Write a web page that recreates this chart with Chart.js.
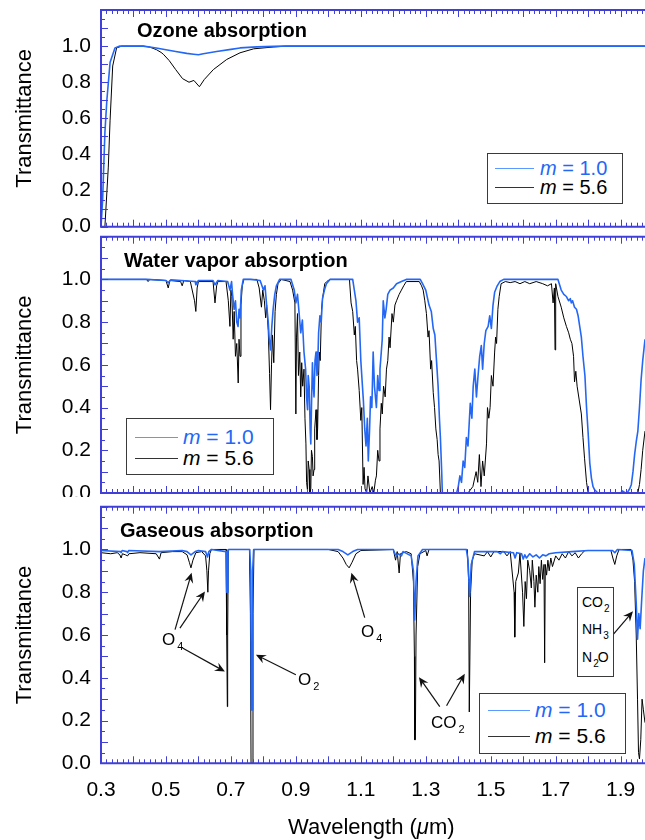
<!DOCTYPE html>
<html>
<head>
<meta charset="utf-8">
<script src="https://cdn.jsdelivr.net/npm/chart.js@4.4.1/dist/chart.umd.min.js"></script>
<style>
  html, body { margin: 0; padding: 0; background: #fff; }
  #wrap { position: relative; width: 645px; height: 840px; overflow: hidden;
          font-family: "Liberation Sans", Arial, Helvetica, sans-serif; color: #000; }
  canvas { position: absolute; left: 0; }
  #c1 { top: 0; }
  #c2 { top: 234px; }
  #c3 { top: 497px; background: #fff; }
  .t { position: absolute; white-space: nowrap; }
  .t sub { vertical-align: baseline; position: relative; }
  .box { position: absolute; border: 1px solid #3a3a3a; background: #fff; box-sizing: border-box; }
  .ln { position: absolute; height: 0; }
</style>
</head>
<body>
<div id="wrap">
  <canvas id="c1" width="645" height="240"></canvas>
  <canvas id="c2" width="645" height="266"></canvas>
  <canvas id="c3" width="645" height="343"></canvas>
</div>
<script>
// tick labels and titles
const xTickLabels = ['0.3', '0.5', '0.7', '0.9', '1.1', '1.3', '1.5', '1.7', '1.9'];
const yTickLabels = ['0.0', '0.2', '0.4', '0.6', '0.8', '1.0'];
const panelTitles = ['Ozone absorption', 'Water vapor absorption', 'Gaseous absorption'];
const airMass = ['1.0', '5.6'];

// [wavelength (um), transmittance]
const ozoneBlue = [[0.300,0.00],[0.305,0.15],[0.312,0.52],[0.318,0.70],[0.328,0.91],[0.343,0.99],[0.358,1.00],
  [0.43,1.00],[0.47,0.99],[0.50,0.98],[0.53,0.97],[0.564,0.96],[0.585,0.955],[0.600,0.952],[0.615,0.958],
  [0.656,0.97],[0.70,0.982],[0.728,0.99],[0.78,0.996],[0.86,1.00],[1.975,1.00]];
const ozoneBlack = [[0.300,0.00],[0.312,0.00],[0.3225,0.33],[0.328,0.59],[0.336,0.89],[0.348,0.99],[0.364,1.00],
  [0.43,1.00],[0.45,0.995],[0.471,0.98],[0.485,0.965],[0.492,0.955],[0.51,0.92],[0.53,0.87],[0.551,0.82],
  [0.571,0.80],[0.586,0.81],[0.603,0.775],[0.618,0.815],[0.646,0.87],[0.687,0.926],[0.728,0.963],
  [0.77,0.985],[0.83,0.995],[0.87,1.00],[1.975,1.00]];

const waterBlue = [[0.300,1.0],[0.44,1.0],[0.50,0.995],[0.507,0.985],[0.515,0.998],[0.59,0.99],[0.592,0.975],
  [0.60,0.995],[0.645,0.995],[0.651,0.975],[0.66,0.995],[0.69,0.99],[0.697,0.95],[0.702,0.99],[0.705,0.93],
  [0.71,0.86],[0.714,0.90],[0.718,0.80],[0.722,0.78],[0.725,0.86],[0.728,0.82],[0.732,0.95],[0.738,1.0],
  [0.76,1.0],[0.79,0.995],[0.80,0.95],[0.805,0.97],[0.81,0.88],[0.815,0.80],[0.818,0.72],[0.822,0.67],
  [0.826,0.78],[0.83,0.86],[0.835,0.93],[0.84,0.97],[0.85,1.0],[0.885,1.0],[0.895,0.95],[0.90,0.89],
  [0.905,0.93],[0.909,0.86],[0.915,0.75],[0.92,0.81],[0.925,0.66],[0.93,0.58],[0.933,0.45],[0.936,0.39],
  [0.938,0.55],[0.941,0.50],[0.944,0.30],[0.946,0.23],[0.948,0.40],[0.951,0.61],[0.953,0.52],[0.956,0.45],
  [0.959,0.62],[0.962,0.66],[0.965,0.55],[0.967,0.58],[0.970,0.75],[0.974,0.83],[0.978,0.80],[0.982,0.91],
  [0.988,0.95],[0.994,0.98],[1.005,1.0],[1.075,1.0],[1.08,0.95],[1.085,0.90],[1.09,0.80],[1.095,0.82],
  [1.10,0.62],[1.105,0.50],[1.108,0.43],[1.112,0.30],[1.116,0.22],[1.12,0.35],[1.123,0.15],[1.127,0.30],
  [1.13,0.45],[1.134,0.40],[1.138,0.66],[1.142,0.50],[1.148,0.40],[1.152,0.55],[1.156,0.48],[1.159,0.58],
  [1.163,0.66],[1.166,0.72],[1.169,0.90],[1.174,0.82],[1.178,0.86],[1.183,0.93],[1.19,0.95],[1.20,0.96],
  [1.21,0.98],[1.225,0.99],[1.24,1.0],[1.283,1.0],[1.29,0.98],[1.30,0.95],[1.31,0.88],[1.317,0.85],
  [1.323,0.77],[1.328,0.74],[1.333,0.62],[1.338,0.50],[1.342,0.35],[1.345,0.26],[1.349,0.10],[1.351,0.0],
  [1.395,0.0],[1.40,0.03],[1.405,0.08],[1.41,0.05],[1.415,0.15],[1.42,0.12],[1.425,0.26],[1.43,0.22],
  [1.437,0.42],[1.442,0.35],[1.446,0.50],[1.451,0.58],[1.456,0.45],[1.461,0.55],[1.466,0.64],[1.471,0.69],
  [1.475,0.58],[1.48,0.70],[1.485,0.76],[1.492,0.78],[1.497,0.83],[1.502,0.77],[1.507,0.88],[1.512,0.94],
  [1.52,0.97],[1.528,0.99],[1.54,1.0],[1.707,1.0],[1.717,0.95],[1.725,0.93],[1.733,0.92],[1.74,0.90],
  [1.745,0.91],[1.748,0.89],[1.752,0.90],[1.758,0.87],[1.764,0.86],[1.769,0.83],[1.774,0.78],[1.779,0.73],
  [1.784,0.64],[1.79,0.55],[1.795,0.40],[1.80,0.28],[1.805,0.14],[1.81,0.07],[1.815,0.03],[1.82,0.015],
  [1.83,0.0],[1.90,0.0],[1.905,0.01],[1.915,0.0],[1.922,0.005],[1.928,0.02],[1.933,0.04],[1.938,0.10],
  [1.943,0.18],[1.948,0.24],[1.953,0.29],[1.958,0.40],[1.963,0.53],[1.968,0.62],[1.975,0.72]];
const waterBlack = [[0.300,1.0],[0.44,1.0],[0.445,0.99],[0.45,1.0],[0.50,0.995],[0.507,0.96],[0.512,0.995],
  [0.545,0.99],[0.55,0.97],[0.555,0.995],[0.575,0.99],[0.588,0.90],[0.592,0.85],[0.596,0.96],[0.60,0.99],
  [0.645,0.99],[0.651,0.89],[0.656,0.97],[0.66,0.99],[0.685,0.99],[0.692,0.90],[0.697,0.78],[0.700,0.95],
  [0.703,0.92],[0.707,0.72],[0.71,0.85],[0.714,0.64],[0.718,0.70],[0.7225,0.515],[0.725,0.72],[0.728,0.64],
  [0.731,0.88],[0.735,0.97],[0.74,1.0],[0.78,1.0],[0.787,0.96],[0.794,0.87],[0.798,0.95],[0.803,0.90],
  [0.807,0.82],[0.81,0.88],[0.815,0.76],[0.819,0.56],[0.822,0.39],[0.825,0.60],[0.828,0.74],[0.832,0.61],
  [0.836,0.85],[0.84,0.93],[0.845,0.98],[0.855,1.0],[0.882,0.99],[0.89,0.95],[0.897,0.89],[0.900,0.37],
  [0.902,0.73],[0.905,0.84],[0.908,0.55],[0.912,0.66],[0.915,0.45],[0.918,0.61],[0.921,0.50],[0.925,0.58],
  [0.928,0.35],[0.931,0.23],[0.933,0.05],[0.936,0.01],[0.938,0.15],[0.941,0.11],[0.943,0.0],[0.946,0.02],
  [0.948,0.20],[0.951,0.17],[0.953,0.08],[0.956,0.11],[0.958,0.30],[0.962,0.39],[0.965,0.25],[0.967,0.30],
  [0.970,0.55],[0.972,0.66],[0.975,0.62],[0.979,0.86],[0.983,0.92],[0.989,0.98],[0.995,0.99],[1.005,1.0],
  [1.065,1.0],[1.07,0.89],[1.075,0.85],[1.08,0.74],[1.083,0.78],[1.087,0.62],[1.09,0.58],[1.095,0.48],
  [1.10,0.34],[1.103,0.40],[1.107,0.04],[1.11,0.12],[1.113,0.02],[1.118,0.0],[1.122,0.08],[1.128,0.0],
  [1.135,0.03],[1.14,0.0],[1.145,0.06],[1.148,0.08],[1.152,0.20],[1.156,0.15],[1.159,0.30],[1.163,0.42],
  [1.166,0.37],[1.17,0.50],[1.175,0.45],[1.179,0.58],[1.183,0.62],[1.187,0.73],[1.19,0.68],[1.196,0.84],
  [1.20,0.80],[1.205,0.88],[1.21,0.90],[1.218,0.93],[1.225,0.95],[1.232,0.97],[1.24,0.99],[1.28,0.99],
  [1.287,0.97],[1.292,0.95],[1.297,0.90],[1.302,0.84],[1.307,0.73],[1.31,0.76],[1.315,0.58],[1.318,0.62],
  [1.323,0.47],[1.327,0.40],[1.331,0.30],[1.335,0.25],[1.338,0.18],[1.341,0.15],[1.345,0.0],[1.43,0.0],
  [1.435,0.01],[1.445,0.03],[1.455,0.10],[1.46,0.05],[1.465,0.18],[1.47,0.03],[1.475,0.15],[1.48,0.08],
  [1.487,0.23],[1.49,0.40],[1.494,0.35],[1.498,0.40],[1.502,0.55],[1.507,0.50],[1.512,0.66],[1.515,0.73],
  [1.518,0.70],[1.522,0.86],[1.526,0.92],[1.532,0.98],[1.545,0.99],[1.56,0.985],[1.575,0.99],[1.59,0.98],
  [1.605,0.99],[1.62,0.98],[1.64,0.99],[1.66,0.98],[1.675,0.97],[1.687,0.98],[1.692,0.89],[1.696,0.96],
  [1.698,0.67],[1.700,0.98],[1.707,0.92],[1.717,0.87],[1.725,0.82],[1.733,0.78],[1.74,0.75],[1.745,0.72],
  [1.75,0.70],[1.755,0.64],[1.758,0.52],[1.762,0.57],[1.766,0.50],[1.772,0.44],[1.779,0.37],[1.784,0.26],
  [1.789,0.16],[1.795,0.05],[1.80,0.0],[1.953,0.0],[1.958,0.04],[1.963,0.11],[1.968,0.20],[1.975,0.29]];

const gasBlue = [[0.300,0.995],[0.36,0.99],[0.362,0.985],[0.365,0.995],[0.38,0.99],[0.382,0.985],[0.385,0.995],
  [0.48,0.99],[0.55,0.995],[0.565,0.99],[0.577,0.975],[0.59,0.99],[0.60,0.995],[0.622,0.99],[0.628,0.965],
  [0.632,0.99],[0.64,1.0],[0.685,0.99],[0.687,0.80],[0.689,0.80],[0.691,0.99],[0.693,1.0],[0.758,1.0],
  [0.761,0.90],[0.763,0.25],[0.765,0.25],[0.767,0.90],[0.77,1.0],[1.03,1.0],[1.045,0.99],[1.06,0.975],
  [1.075,0.99],[1.09,1.0],[1.20,1.0],[1.205,0.98],[1.21,0.97],[1.215,0.98],[1.225,0.97],[1.23,0.99],
  [1.255,0.97],[1.262,0.90],[1.266,0.67],[1.27,0.85],[1.276,0.97],[1.29,1.0],[1.425,1.0],[1.43,0.95],
  [1.435,0.78],[1.44,0.93],[1.45,0.99],[1.52,0.99],[1.53,0.98],[1.535,0.99],[1.57,0.985],[1.575,0.96],
  [1.58,0.985],[1.595,0.98],[1.60,0.955],[1.605,0.975],[1.61,0.96],[1.62,0.98],[1.63,0.965],[1.64,0.975],
  [1.65,0.96],[1.66,0.975],[1.67,0.97],[1.68,0.98],[1.70,0.985],[1.75,0.99],[1.80,0.995],[1.875,0.995],
  [1.882,0.985],[1.89,1.0],[1.935,0.995],[1.942,0.93],[1.948,0.75],[1.952,0.58],[1.956,0.70],[1.96,0.63],
  [1.965,0.77],[1.97,0.90],[1.975,0.96]];
const gasBlack = [[0.300,0.985],[0.33,0.98],[0.35,0.985],[0.358,0.975],[0.362,0.96],[0.366,0.98],[0.375,0.975],
  [0.382,0.97],[0.386,0.98],[0.42,0.985],[0.47,0.98],[0.48,0.955],[0.485,0.985],[0.52,0.99],[0.55,0.99],
  [0.565,0.975],[0.572,0.94],[0.577,0.914],[0.583,0.95],[0.592,0.985],[0.61,0.99],[0.622,0.97],[0.626,0.90],
  [0.629,0.80],[0.631,0.90],[0.635,0.98],[0.64,1.0],[0.685,1.0],[0.687,0.60],[0.689,0.265],[0.690,0.60],
  [0.692,1.0],[0.757,1.0],[0.760,0.70],[0.762,0.0],[0.765,0.0],[0.768,0.70],[0.771,1.0],[1.00,1.0],
  [1.03,0.99],[1.045,0.96],[1.055,0.93],[1.064,0.914],[1.073,0.94],[1.085,0.98],[1.10,0.995],[1.20,1.0],
  [1.207,0.95],[1.212,0.99],[1.218,0.89],[1.222,0.98],[1.24,0.99],[1.255,0.98],[1.262,0.85],[1.265,0.50],
  [1.266,0.11],[1.268,0.11],[1.27,0.60],[1.275,0.92],[1.282,0.98],[1.30,0.995],[1.304,0.97],[1.31,1.0],
  [1.428,1.0],[1.432,0.85],[1.434,0.24],[1.436,0.24],[1.438,0.80],[1.443,0.95],[1.45,0.98],[1.48,0.97],
  [1.49,0.99],[1.50,0.965],[1.51,0.99],[1.54,0.99],[1.55,0.97],[1.56,0.99],[1.572,0.80],[1.574,0.59],
  [1.577,0.85],[1.585,0.89],[1.59,0.98],[1.598,0.80],[1.602,0.64],[1.606,0.85],[1.61,0.77],[1.614,0.95],
  [1.62,0.90],[1.625,0.82],[1.628,0.95],[1.633,0.85],[1.636,0.73],[1.64,0.88],[1.645,0.80],[1.648,0.92],
  [1.652,0.84],[1.656,0.95],[1.66,0.86],[1.664,0.93],[1.666,0.47],[1.668,0.93],[1.672,0.88],[1.676,0.95],
  [1.68,0.90],[1.685,0.96],[1.69,0.92],[1.70,0.97],[1.71,0.95],[1.72,0.98],[1.73,0.96],[1.74,0.99],
  [1.75,0.97],[1.76,0.985],[1.77,0.96],[1.78,0.98],[1.79,0.995],[1.87,0.995],[1.876,0.96],[1.882,0.93],
  [1.888,0.97],[1.895,1.0],[1.932,1.0],[1.938,0.95],[1.943,0.85],[1.948,0.60],[1.952,0.30],[1.955,0.05],
  [1.958,0.02],[1.962,0.11],[1.966,0.30],[1.97,0.25],[1.975,0.19]];

// annotation arrows in data units: [fromWl, fromT, toWl, toT]
const gasArrows = [[0.528,0.625,0.579,0.891],[0.543,0.632,0.620,0.804],[0.551,0.539,0.6815,0.429],
  [0.900,0.414,0.777,0.508],[1.112,0.681,1.071,0.891],[1.343,0.265,1.279,0.403],[1.364,0.269,1.420,0.419],
  [1.876,0.601,1.938,0.711]];

const AXIS = '#4040d8';
const BLUE = '#2467f5';
const FONT = '"Liberation Sans", Arial, Helvetica, sans-serif';

const xTickValues = [];
for (let i = 18; i <= 118; i++) xTickValues.push(i / 60);
const yTickValues = [];
for (let k = 0; k <= 24; k++) yTickValues.push(k / 20);
const isTenth = v => Math.abs(v * 10 - Math.round(v * 10)) < 1e-6;

// blue frame with inward minor/major ticks (right side is cut off in the original)
const frameTicks = {
  id: 'frameTicks',
  afterDatasetsDraw(chart) {
    const { ctx, chartArea: a } = chart;
    const xs = chart.scales.x, ys = chart.scales.y;
    ctx.save();
    ctx.strokeStyle = AXIS;
    ctx.lineWidth = 1;
    ctx.beginPath();
    xTickValues.forEach(v => {
      const px = Math.round(xs.getPixelForValue(v)) + 0.5;
      const len = isTenth(v) ? 7 : 4;
      ctx.moveTo(px, a.top); ctx.lineTo(px, a.top + len);
      ctx.moveTo(px, a.bottom); ctx.lineTo(px, a.bottom - len);
    });
    yTickValues.forEach(v => {
      const py = Math.round(ys.getPixelForValue(v)) + 0.5;
      const len = isTenth(v) ? 7 : 4;
      ctx.moveTo(a.left, py); ctx.lineTo(a.left + len, py);
    });
    ctx.stroke();
    ctx.lineWidth = 2;
    ctx.beginPath();
    ctx.moveTo(a.right, a.top); ctx.lineTo(a.left, a.top);
    ctx.lineTo(a.left, a.bottom); ctx.lineTo(a.right, a.bottom);
    ctx.stroke();
    ctx.restore();
  }
};

const arrowsPlugin = {
  id: 'arrows',
  afterDatasetsDraw(chart, args, opts) {
    if (!opts.list) return;
    const { ctx } = chart;
    const xs = chart.scales.x, ys = chart.scales.y;
    ctx.save();
    ctx.strokeStyle = '#111';
    ctx.fillStyle = '#111';
    ctx.lineWidth = 1.2;
    opts.list.forEach(([w0, t0, w1, t1]) => {
      const x0 = xs.getPixelForValue(w0), y0 = ys.getPixelForValue(t0);
      const x1 = xs.getPixelForValue(w1), y1 = ys.getPixelForValue(t1);
      const ang = Math.atan2(y1 - y0, x1 - x0);
      const c = Math.cos(ang), s = Math.sin(ang);
      ctx.beginPath();
      ctx.moveTo(x0, y0);
      ctx.lineTo(x1 - c * 5, y1 - s * 5);
      ctx.stroke();
      const L = 10, W = 4.5;
      ctx.beginPath();
      ctx.moveTo(x1, y1);
      ctx.lineTo(x1 - L * c + W * s, y1 - L * s - W * c);
      ctx.lineTo(x1 - 0.65 * L * c, y1 - 0.65 * L * s);
      ctx.lineTo(x1 - L * c - W * s, y1 - L * s + W * c);
      ctx.closePath();
      ctx.fill();
    });
    ctx.restore();
  }
};

function toXY(pairs) { return pairs.map(p => ({ x: p[0], y: p[1] })); }

function makePanel(id, blue, black, pad, showX, arrows) {
  return new Chart(document.getElementById(id), {
    type: 'line',
    data: {
      datasets: [
        { label: 'm = ' + airMass[0], data: toXY(blue), borderColor: BLUE, borderWidth: 1.6 },
        { label: 'm = ' + airMass[1], data: toXY(black), borderColor: '#000', borderWidth: 1 }
      ]
    },
    options: {
      responsive: false,
      animation: false,
      layout: { padding: { top: pad.top, bottom: pad.bottom, left: 0, right: 0 } },
      elements: { point: { radius: 0 }, line: { tension: 0, borderJoinStyle: 'round', fill: false } },
      plugins: { legend: { display: false }, tooltip: { enabled: false }, arrows: { list: arrows } },
      scales: {
        x: {
          type: 'linear', min: 0.3, max: 1.975,
          grid: { display: false, drawTicks: false }, border: { display: false },
          afterBuildTicks: s => { s.ticks = xTickValues.map(v => ({ value: v })); },
          afterFit: s => { s.height = showX ? 40 : 0; s.paddingLeft = 0; s.paddingRight = 0; },
          ticks: {
            display: showX, autoSkip: false, maxRotation: 0, padding: 14, color: '#000',
            font: { family: FONT, size: 21 },
            callback: v => { const s = v.toFixed(1); return isTenth(v) && xTickLabels.includes(s) ? s : ''; }
          }
        },
        y: {
          min: 0, max: 1.2,
          grid: { display: false, drawTicks: false }, border: { display: false },
          afterBuildTicks: s => { s.ticks = yTickValues.map(v => ({ value: v })); },
          afterFit: s => { s.width = 101; s.paddingTop = 0; s.paddingBottom = 0; },
          ticks: {
            autoSkip: false, padding: 10, color: '#000',
            font: { family: FONT, size: 21 },
            callback: v => { const s = v.toFixed(1); return isTenth(v) && yTickLabels.includes(s) ? s : ''; }
          },
          title: { display: true, text: 'Transmittance', color: '#000', font: { family: FONT, size: 22 }, padding: { top: 12, bottom: 0 } }
        }
      }
    },
    plugins: [frameTicks, arrowsPlugin]
  });
}

makePanel('c1', ozoneBlue, ozoneBlack, { top: 10, bottom: 13.3 }, false, null);
makePanel('c2', waterBlue, waterBlack, { top: 2.7, bottom: 7 }, false, null);
makePanel('c3', gasBlue, gasBlack, { top: 9.7, bottom: 36.7 }, true, gasArrows);

// text overlays
const wrap = document.getElementById('wrap');
function text(html, left, cy, size, css) {
  const d = document.createElement('div');
  d.className = 't';
  d.innerHTML = html;
  d.style.cssText += `left:${left}px; top:${cy - size * 0.6}px; font-size:${size}px; line-height:${size * 1.2}px;` + (css || '');
  wrap.appendChild(d);
  return d;
}
function box(left, top, w, h) {
  const d = document.createElement('div');
  d.className = 'box';
  d.style.cssText = `left:${left}px; top:${top}px; width:${w}px; height:${h}px;`;
  wrap.appendChild(d);
}
function line(x0, x1, y, color) {
  const d = document.createElement('div');
  d.className = 'ln';
  d.style.cssText = `left:${x0}px; top:${y}px; width:${x1 - x0}px; border-top:1.5px solid ${color};`;
  wrap.appendChild(d);
}
function legend(left, top, w, h, lx0, lx1, tx, y1, y2, size) {
  box(left, top, w, h);
  line(lx0, lx1, y1 - 0.5, '#5b98ff');
  line(lx0, lx1, y2 - 0.5, '#333');
  text(`<i>m</i> = ${airMass[0]}`, tx, y1, size, `color:${BLUE};`);
  text(`<i>m</i> = ${airMass[1]}`, tx, y2, size);
}

text(panelTitles[0], 137, 30, 20, 'font-weight:bold;');
text(panelTitles[1], 124, 260, 20, 'font-weight:bold;');
text(panelTitles[2], 120, 530, 20, 'font-weight:bold;');

legend(487, 153, 136, 51, 495, 534, 540, 168, 187, 20);
legend(126, 418, 148, 57, 135, 178, 183, 437, 458, 21);
legend(479, 693, 147, 61, 488, 530, 535, 710, 736, 21);

const sub = (n, s) => `<sub style="font-size:${s}px; top:5px; margin-left:2px;">${n}</sub>`;
text('O' + sub('4', 11), 162, 640, 17);
text('O' + sub('2', 11), 298, 680, 17);
text('O' + sub('4', 11), 361, 632, 17);
text('CO' + sub('2', 11), 431, 723, 17);

box(577, 587, 37, 90);
const sub2 = n => `<sub style="font-size:10px; top:5px; margin-left:1px;">${n}</sub>`;
text('CO' + sub2('2'), 582, 602, 14);
text('NH' + sub2('3'), 582, 629, 14);
text('N' + `<sub style="font-size:10px; top:5px; margin:0 -1px 0 1px;">2</sub>` + 'O', 582, 657, 14);

text('Wavelength (<i>μ</i>m)', 288, 827, 22);
</script>
</body>
</html>
